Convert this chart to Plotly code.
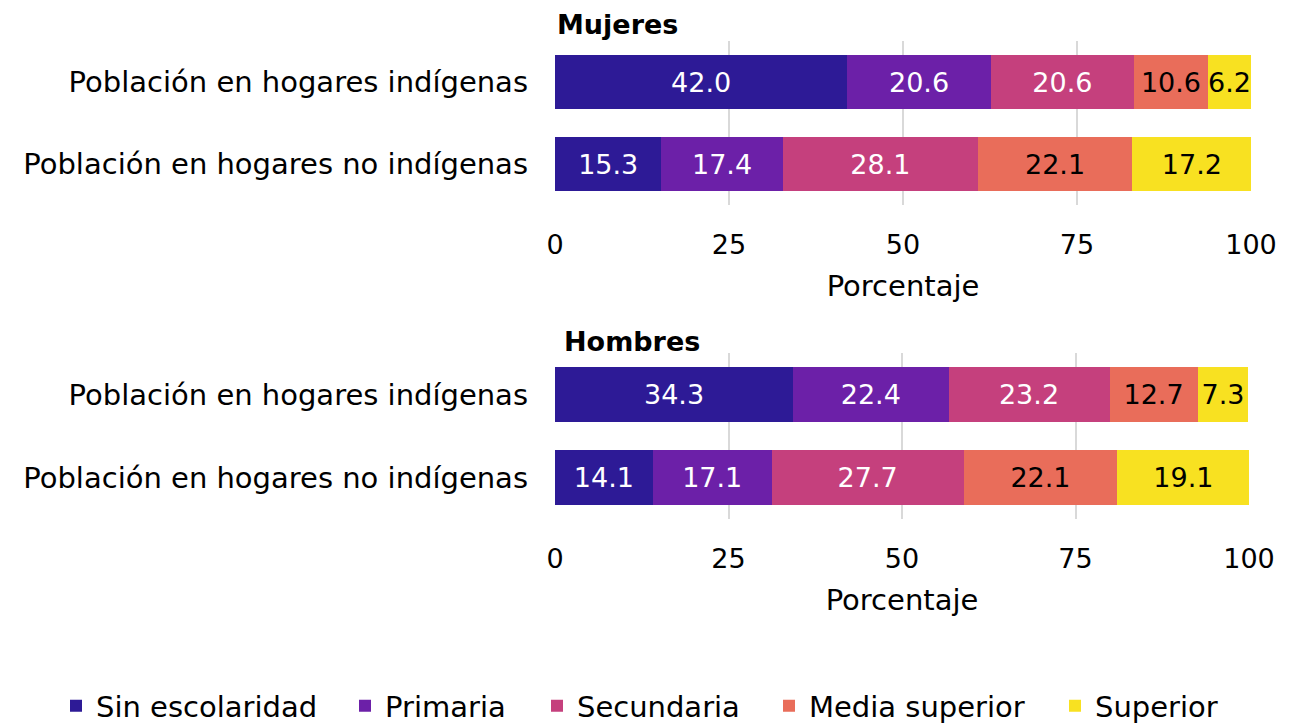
import plotly.graph_objects as go
from plotly.subplots import make_subplots

categories = ["Población en hogares indígenas", "Población en hogares no indígenas"]
levels = ["Sin escolaridad", "Primaria", "Secundaria", "Media superior", "Superior"]
colors = ["#2d1a96", "#6c20a8", "#c5407d", "#e96d5a", "#f8e121"]
text_colors = ["white", "white", "white", "black", "black"]

mujeres = {
    "Sin escolaridad": [42.0, 15.3],
    "Primaria": [20.6, 17.4],
    "Secundaria": [20.6, 28.1],
    "Media superior": [10.6, 22.1],
    "Superior": [6.2, 17.2],
}
hombres = {
    "Sin escolaridad": [34.3, 14.1],
    "Primaria": [22.4, 17.1],
    "Secundaria": [23.2, 27.7],
    "Media superior": [12.7, 22.1],
    "Superior": [7.3, 19.1],
}

FONT = "DejaVu Sans"
NUM = 27   # numbers (bar labels, x ticks)
TXT = 29   # words (category labels, titles, legend)
W, H = 1290, 725

# left edge (px) of each legend entry, one legend per level so spacing matches
legend_left = [56, 345, 537, 769, 1055]
legend_ids = ["legend", "legend2", "legend3", "legend4", "legend5"]

fig = make_subplots(rows=2, cols=1)

for row, data in ((1, mujeres), (2, hombres)):
    for lvl, col, tcol, lid in zip(levels, colors, text_colors, legend_ids):
        fig.add_trace(go.Bar(
            y=categories, x=data[lvl], orientation="h", name=lvl,
            marker=dict(color=col, line=dict(width=0)),
            text=[f"{v:.1f}" for v in data[lvl]], textposition="inside",
            insidetextanchor="middle", textangle=0,
            textfont=dict(family=FONT, size=NUM, color=tcol),
            showlegend=(row == 1), legendgroup=lvl, legend=lid,
        ), row=row, col=1)

fig.update_xaxes(range=[0, 100], tickvals=[0, 25, 50, 75, 100], showgrid=True,
                 gridcolor="#d9d9d9", gridwidth=2, zeroline=False, showline=False,
                 ticks="", ticklabelstandoff=21, automargin=False,
                 tickfont=dict(family=FONT, size=NUM, color="black"),
                 title=dict(text="Porcentaje", font=dict(family=FONT, size=TXT, color="black"),
                            standoff=16))
fig.update_xaxes(domain=[555 / W, 1251 / W], row=1, col=1)
fig.update_xaxes(domain=[555 / W, 1249 / W], row=2, col=1)

fig.update_yaxes(categoryorder="array", categoryarray=categories, autorange="reversed",
                 showgrid=False, zeroline=False, ticks="", ticklabelstandoff=26, automargin=False,
                 tickfont=dict(family=FONT, size=TXT, color="black"))
fig.update_yaxes(domain=[1 - 205 / H, 1 - 41 / H], row=1, col=1)
fig.update_yaxes(domain=[1 - 519 / H, 1 - 353 / H], row=2, col=1)

for txt, xpx, ypx in (("Mujeres", 555, 24), ("Hombres", 562, 342)):
    fig.add_annotation(text=f"<b>{txt}</b>", xref="paper", yref="paper",
                       x=xpx / W, y=1 - ypx / H, xanchor="left", yanchor="middle",
                       showarrow=False, font=dict(family=FONT, size=27, color="black"))

legend_style = dict(orientation="h", xref="container", yref="container",
                    y=1 - 706 / H, xanchor="left", yanchor="middle",
                    font=dict(family=FONT, size=TXT, color="black"),
                    itemwidth=30, bgcolor="rgba(0,0,0,0)")
legends = {lid: dict(legend_style, x=left / W) for lid, left in zip(legend_ids, legend_left)}

fig.update_layout(
    width=W, height=H, template="none", barmode="stack", bargap=0.33,
    margin=dict(l=0, r=0, t=0, b=0, autoexpand=False),
    paper_bgcolor="white", plot_bgcolor="white",
    font=dict(family=FONT, size=TXT, color="black"),
    uniformtext=dict(mode="show", minsize=NUM),
    **legends,
)

# the page body has a default 8px margin; drop it so the figure sits at the window corner
fig.write_html("out.html", config={"displayModeBar": False},
               post_script="document.body.style.margin='0';")
